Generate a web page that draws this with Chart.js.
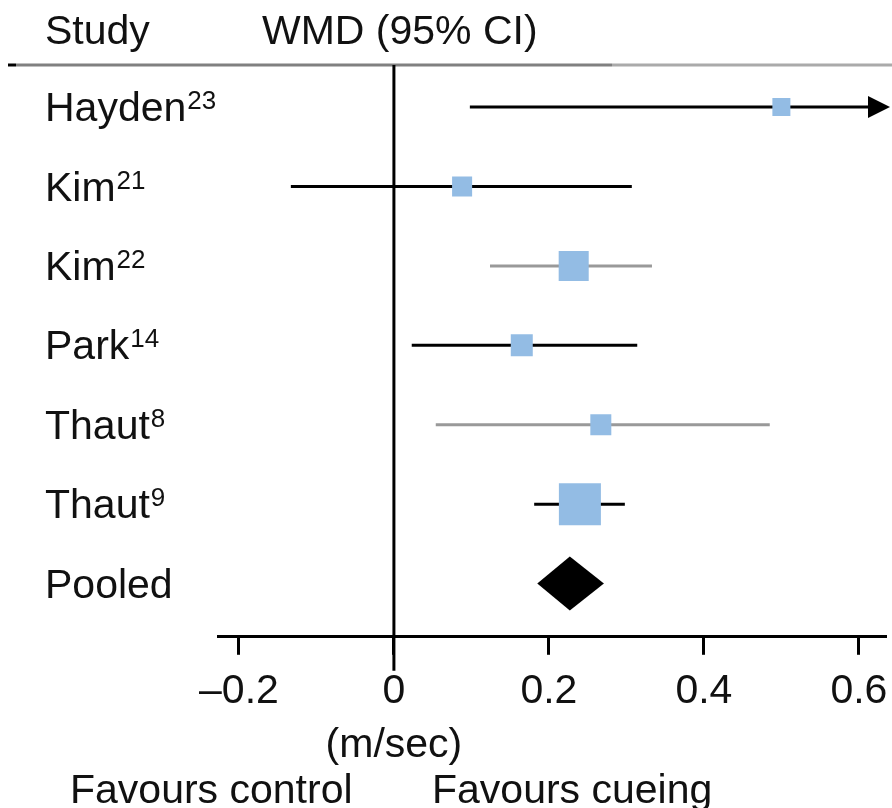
<!DOCTYPE html>
<html>
<head>
<meta charset="utf-8">
<title>Forest plot - WMD (95% CI)</title>
<script src="https://cdn.jsdelivr.net/npm/chart.js@4.4.1/dist/chart.umd.min.js"></script>
<style>
    html, body { margin: 0; padding: 0; background: #fff; }
    #wrap { width: 892px; height: 808px; }
</style>
</head>
<body>
<div id="wrap"><canvas id="forestChart" width="892" height="808"></canvas></div>
<script>
// Study names and their reference numbers
const studies = ['Hayden', 'Kim', 'Kim', 'Park', 'Thaut', 'Thaut'];
const refs = ['23', '21', '22', '14', '8', '9'];

// Weighted mean difference and 95% CI (m/sec)
const wmd = [0.50, 0.088, 0.232, 0.165, 0.267, 0.240];
const ciLow = [0.098, -0.133, 0.124, 0.023, 0.054, 0.181];
const ciHigh = [0.70, 0.307, 0.333, 0.314, 0.485, 0.298];

// Study weights (%), box area follows weight
const weights = [7.5, 9.3, 20.9, 11.2, 10.2, 40.9];

// Pooled estimate
const pooledLabel = 'Pooled';
const pooledWmd = 0.227;
const pooledLow = 0.185;
const pooledHigh = 0.271;

// Axis
const xTicks = [-0.2, 0, 0.2, 0.4, 0.6];
const xMin = -0.227;
const xMax = 0.635;

// Styles
const FONT = '"Liberation Sans", Arial, sans-serif';
const TEXT_COLOR = '#111';
const BOX_COLOR = '#93bce4';
const lineColors = ['#000', '#000', '#999', '#000', '#999', '#000'];

// box side in px from weight, then radius for the 'rect' point style
function boxRadius(w) {
    const side = 6.57 * Math.sqrt(w);
    return side / Math.SQRT2;
}

// CI line datasets
const ciDatasets = studies.map((name, i) => ({
    label: name + refs[i],
    data: [{ x: ciLow[i], y: i }, { x: ciHigh[i], y: i }],
    showLine: true,
    borderColor: lineColors[i],
    borderWidth: 3,
    pointRadius: 0,
    order: 2
}));

// Weighted boxes
const boxDataset = {
    label: 'WMD',
    data: wmd.map((v, i) => ({ x: v, y: i })),
    pointStyle: 'rect',
    pointRadius: weights.map(boxRadius),
    backgroundColor: BOX_COLOR,
    borderWidth: 0,
    order: 1
};

// Extra drawing: header, zero line, arrow, diamond and text
const forestDecor = {
    id: 'forestDecor',
    afterDatasetsDraw(chart) {
        const ctx = chart.ctx;
        const xs = chart.scales.x;
        const ys = chart.scales.y;
        const area = chart.chartArea;
        ctx.save();

        // header rule
        ctx.lineWidth = 3;
        ctx.strokeStyle = '#000';
        ctx.beginPath(); ctx.moveTo(8, area.top); ctx.lineTo(16, area.top); ctx.stroke();
        ctx.strokeStyle = '#808080';
        ctx.beginPath(); ctx.moveTo(16, area.top); ctx.lineTo(612, area.top); ctx.stroke();
        ctx.strokeStyle = '#aaaaaa';
        ctx.beginPath(); ctx.moveTo(612, area.top); ctx.lineTo(892, area.top); ctx.stroke();

        // line of no effect
        const x0 = xs.getPixelForValue(0);
        ctx.strokeStyle = '#000';
        ctx.lineWidth = 3;
        ctx.beginPath(); ctx.moveTo(x0, area.top); ctx.lineTo(x0, area.bottom + 34); ctx.stroke();

        // arrows for CIs running off the axis
        ciHigh.forEach((v, i) => {
            if (v <= xMax) return;
            const y = ys.getPixelForValue(i);
            ctx.fillStyle = lineColors[i];
            ctx.beginPath();
            ctx.moveTo(area.right + 4, y);
            ctx.lineTo(area.right - 18, y - 11);
            ctx.lineTo(area.right - 18, y + 11);
            ctx.closePath();
            ctx.fill();
        });

        // pooled diamond
        const py = ys.getPixelForValue(studies.length);
        ctx.fillStyle = '#000';
        ctx.beginPath();
        ctx.moveTo(xs.getPixelForValue(pooledLow), py);
        ctx.lineTo(xs.getPixelForValue(pooledWmd), py - 27);
        ctx.lineTo(xs.getPixelForValue(pooledHigh), py);
        ctx.lineTo(xs.getPixelForValue(pooledWmd), py + 27);
        ctx.closePath();
        ctx.fill();

        // text
        ctx.fillStyle = TEXT_COLOR;
        ctx.textBaseline = 'alphabetic';
        ctx.textAlign = 'left';
        ctx.font = '41px ' + FONT;
        ctx.fillText('Study', 45, 44);
        ctx.fillText('WMD (95% CI)', 262, 44);

        studies.forEach((name, i) => {
            const yb = ys.getPixelForValue(i) + 14;
            ctx.font = '41px ' + FONT;
            ctx.fillText(name, 45, yb);
            const w = ctx.measureText(name).width;
            ctx.font = '26px ' + FONT;
            ctx.fillText(refs[i], 45 + w + 1, yb - 12);
        });
        ctx.font = '41px ' + FONT;
        ctx.fillText(pooledLabel, 45, py + 14);

        ctx.textAlign = 'center';
        ctx.fillText('(m/sec)', x0, 757);
        ctx.textAlign = 'left';
        ctx.fillText('Favours control', 70, 803);
        ctx.fillText('Favours cueing', 432, 803);

        ctx.restore();
    }
};

const chart = new Chart(document.getElementById('forestChart').getContext('2d'), {
    type: 'scatter',
    data: {
        datasets: [boxDataset, ...ciDatasets]
    },
    options: {
        responsive: false,
        animation: false,
        layout: {
            autoPadding: false,
            padding: { left: 218, right: 6, top: 65, bottom: 80 }
        },
        plugins: {
            legend: { display: false },
            tooltip: { enabled: false }
        },
        scales: {
            x: {
                type: 'linear',
                min: xMin,
                max: xMax,
                afterBuildTicks: scale => {
                    scale.ticks = xTicks.map(v => ({ value: v }));
                },
                // tick labels may run past the axis ends, like the original
                afterFit: scale => {
                    scale.paddingLeft = 0;
                    scale.paddingRight = 0;
                },
                grid: {
                    drawOnChartArea: false,
                    drawTicks: true,
                    tickLength: 18,
                    tickWidth: 3,
                    tickColor: '#000'
                },
                border: { display: true, color: '#000', width: 3 },
                ticks: {
                    color: TEXT_COLOR,
                    font: { family: FONT, size: 41 },
                    padding: 12,
                    maxRotation: 0,
                    autoSkip: false,
                    callback: v => v < 0 ? '\u2013' + Math.abs(v) : String(v)
                }
            },
            y: {
                type: 'linear',
                display: false,
                reverse: true,
                min: -0.53,
                max: 6.67
            }
        }
    },
    plugins: [forestDecor]
});
</script>
</body>
</html>
